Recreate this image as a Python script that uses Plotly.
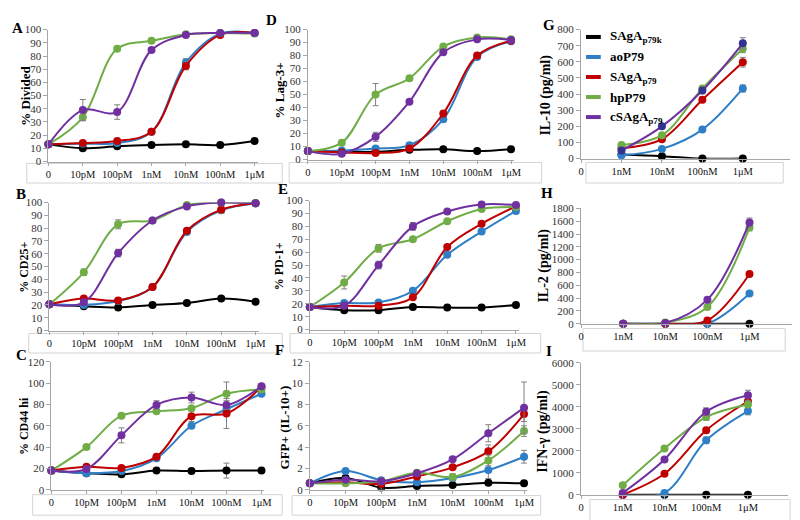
import plotly.graph_objects as go

DOSES7 = ["0", "10pM", "100pM", "1nM", "10nM", "100nM", "1μM"]
DOSES4 = ["0", "1nM", "10nM", "100nM", "1μM"]
SERIES = ["SAgA<sub>p79k</sub>", "aoP79", "SAgA<sub>p79</sub>", "hpP79", "cSAgA<sub>p79</sub>"]
COLORS = ["#000000", "#2e7fc6", "#c00000", "#70ad47", "#7030a0"]

# values per panel, series order = SERIES
divided = [[13, 10, 11.5, 12.5, 13, 12.5, 15.5],
           [13, 13.5, 14, 22.5, 75, 97, 97.5],
           [13, 14, 15.5, 22.5, 72.5, 96, 97.5],
           [13, 33.5, 85.5, 91.5, 96.5, 97.5, 97],
           [13, 39, 37.5, 84.5, 96, 97.5, 97.5]]
divided_err = [[0, 0, 0, 0, 0, 0, 0], [0, 0, 0, 0, 3, 0, 0], [0, 0, 0, 0, 3, 0, 0],
               [0, 2.5, 0, 0, 0, 0, 0], [0, 8, 5.5, 0, 0, 0, 0]]
lag3 = [[6.5, 6, 6, 7.5, 8, 6.5, 8],
        [6.5, 7, 8.5, 11, 31, 79, 91],
        [6.5, 5.5, 5, 8.5, 35.5, 80, 91.5],
        [6.5, 13, 50, 62.5, 87, 94, 92.5],
        [6.5, 4.5, 17.5, 44.5, 82.5, 92.5, 92]]
lag3_err = [[0] * 7, [0] * 7, [0] * 7, [0, 0, 8.5, 0, 0, 0, 0], [0, 0, 3.5, 0, 0, 0, 0]]
il10 = [[25, 15, 0, 0],
        [20, 60, 180, 435],
        [65, 120, 365, 598],
        [85, 145, 435, 682],
        [50, 200, 422, 715]]
il10_err = [[0, 0, 0, 0], [0, 0, 10, 22], [0, 0, 18, 30], [0, 0, 15, 25], [0, 0, 20, 35]]
cd25 = [[20.5, 19, 18, 20, 21.5, 25, 22.5],
        [20.5, 20, 23, 34, 77, 94, 99.5],
        [20.5, 25, 23.5, 34, 78, 94.5, 99.5],
        [20.5, 45.5, 83, 86, 98, 100, 99.5],
        [20.5, 22, 60.5, 86, 97, 100, 99.5]]
cd25_err = [[0] * 7, [0] * 7, [0, 0, 0, 0, 0, 3, 0], [0, 2.5, 3.5, 0, 0, 0, 0], [0, 0, 3, 0, 0, 0, 0]]
pd1 = [[17.5, 15, 15, 17.5, 17, 17, 19],
       [17.5, 20.5, 21, 30, 58, 76, 92],
       [17.5, 18.5, 18.5, 25, 64, 82, 95.5],
       [17.5, 36.5, 63, 70, 84, 93.5, 95],
       [17.5, 18.5, 50, 80, 91.5, 97, 96.5]]
pd1_err = [[0] * 7, [0, 0, 0, 0, 0, 0, 2], [0] * 7, [0, 5, 3, 0, 0, 0, 0], [0, 0, 3, 3, 0, 0, 0]]
il2 = [[0, 0, 0, 0],
       [0, 0, 0, 470],
       [0, 0, 50, 775],
       [0, 20, 260, 1500],
       [0, 10, 375, 1580]]
il2_err = [[0, 0, 0, 0], [0, 0, 0, 15], [0, 0, 0, 20], [0, 0, 0, 50], [0, 0, 0, 70]]
cd44 = [[18, 15.5, 14.5, 18, 17.5, 18, 18],
        [18, 15.5, 17.5, 29.5, 60, 75.5, 90],
        [18, 21.5, 20.5, 31, 69, 71.5, 96.5],
        [18, 40, 69.5, 73.5, 76.5, 90, 94],
        [18, 19.5, 51, 79.5, 86.5, 79.5, 97]]
cd44_err = [[0, 0, 0, 0, 0, 7, 0], [0] * 7, [0, 0, 0, 0, 5, 14, 0],
            [0, 2, 0, 0, 0, 11, 0], [0, 0, 7, 4, 5, 4, 0]]
gfp = [[0.6, 1.1, 0.2, 0.35, 0.45, 0.65, 0.6],
       [0.6, 1.75, 0.9, 0.7, 1.1, 1.85, 3.1],
       [0.6, 0.7, 0.55, 1.25, 2.1, 3.6, 7.1],
       [0.6, 0.6, 0.8, 1.6, 1.2, 2.75, 5.5],
       [0.6, 0.95, 0.8, 1.55, 2.85, 5.3, 7.7]]
gfp_err = [[0, 0.6, 0, 0, 0, 0, 0], [0, 0, 0, 0, 0, 0.8, 0.6], [0, 0, 0.5, 0, 0, 0.6, 0.7],
           [0, 0, 0, 0, 0.3, 0.5, 0.5], [0, 0, 0, 0, 0, 0.8, 2.4]]
ifng = [[0, 0, 0, 0],
        [0, 80, 2470, 3800],
        [0, 950, 2930, 4250],
        [430, 2100, 3530, 4100],
        [80, 1600, 3770, 4520]]
ifng_err = [[0, 0, 0, 0], [0, 0, 150, 170], [0, 0, 120, 120], [0, 0, 150, 120], [0, 0, 180, 230]]

SERIF = "Liberation Serif"
W, H = 800, 520

# panel geometry (pixels): x0, step, xend, ybottom, ytop, ymax, dtick
panels = [
    dict(letter="A", title="% Divided", vals=divided, err=divided_err, cats=DOSES7, x0=38, step=34.83, xend=250,
         yb=151, yt=16, ymax=100, dt=10, box=(16, 153, 275, 173), let=(7, 14), tt=(14, 84), ts=13),
    dict(letter="D", title="% Lag-3+", vals=lag3, err=lag3_err, cats=DOSES7, x0=301, step=34.33, xend=510,
         yb=149, yt=16, ymax=100, dt=10, box=(282, 152, 538, 173), let=(264, 6), tt=(272, 78), ts=13),
    dict(letter="G", title="IL-10 (pg/ml)", vals=il10, err=il10_err, cats=DOSES4, x0=578, step=41, xend=790,
         yb=148, yt=16, ymax=800, dt=100, box=(583, 152, 783, 173), let=(545, 11), tt=(543, 83), ts=14),
    dict(letter="B", title="% CD25+", vals=cd25, err=cd25_err, cats=DOSES7, x0=39, step=34.83, xend=251,
         yb=324, yt=193, ymax=100, dt=10, box=(18, 327, 275, 347), let=(10, 184), tt=(13, 259), ts=12),
    dict(letter="E", title="% PD-1+", vals=pd1, err=pd1_err, cats=DOSES7, x0=303, step=34.83, xend=515,
         yb=323, yt=191, ymax=100, dt=10, box=(283, 327, 537, 347), let=(276, 179), tt=(272, 258), ts=12),
    dict(letter="H", title="IL-2 (pg/ml)", vals=il2, err=il2_err, cats=DOSES4, x0=578, step=42.7, xend=793,
         yb=317, yt=199, ymax=1800, dt=200, box=(580, 322, 785, 345), let=(543, 183), tt=(540, 258), ts=14),
    dict(letter="C", title="% CD44 hi", vals=cd44, err=cd44_err, cats=DOSES7, x0=41, step=35.5, xend=257,
         yb=487, yt=356, ymax=120, dt=20, box=(22, 492, 275, 513), let=(11, 349), tt=(13, 422), ts=12),
    dict(letter="F", title="GFP+ (IL-10+)", vals=gfp, err=gfp_err, cats=DOSES7, x0=303, step=36.2, xend=523,
         yb=487, yt=356, ymax=12, dt=2, box=(285, 493, 537, 513), let=(272, 344), tt=(277, 423), ts=13),
    dict(letter="I", title="IFN-γ (pg/ml)", vals=ifng, err=ifng_err, cats=DOSES4, x0=578, step=42.3, xend=788,
         yb=492, yt=357, ymax=6000, dt=1000, box=(587, 497, 790, 522), let=(545, 345), tt=(540, 427), ts=14),
]

fig = go.Figure()
layout = dict(width=W, height=H, margin=dict(l=0, r=0, t=0, b=0), showlegend=False,
              plot_bgcolor="white", paper_bgcolor="white", font=dict(family=SERIF, size=11, color="#222"))
shapes = []
annotations = []

for i, p in enumerate(panels):
    k = "" if i == 0 else str(i + 1)
    xa, ya = "x" + k, "y" + k
    ncat = len(p["cats"])
    offset = 0 if ncat == 7 else 1
    xs = list(range(offset, offset + len(p["vals"][0])))
    for s in range(5):
        mcol = COLORS[s]
        if p["letter"] == "G" and s == 4:
            mcol = "#33338f"
        fig.add_trace(go.Scatter(
            x=xs, y=p["vals"][s], xaxis=xa, yaxis=ya, mode="lines+markers",
            line=dict(color=COLORS[s], width=2, shape="spline", smoothing=1.0),
            marker=dict(color=mcol, size=8),
            error_y=dict(type="data", array=p["err"][s], color="#808080", thickness=1, width=3),
            cliponaxis=False, name=SERIES[s]))
    xmax = (p["xend"] - p["x0"]) / p["step"]
    layout["xaxis" + k] = dict(
        domain=[p["x0"] / W, p["xend"] / W], anchor=ya, range=[0, xmax],
        tickvals=list(range(ncat)), ticktext=p["cats"], showline=True, linecolor="#a6a6a6",
        linewidth=1, ticks="outside", ticklen=3, tickcolor="#a6a6a6", showgrid=False, zeroline=False,
        tickfont=dict(family=SERIF, size=10.5, color="#111"), fixedrange=True)
    layout["yaxis" + k] = dict(
        domain=[1 - p["yb"] / H, 1 - p["yt"] / H], anchor=xa, range=[0, p["ymax"]], dtick=p["dt"],
        tick0=0, showline=True, linecolor="#a6a6a6", linewidth=1, ticks="outside", ticklen=4,
        tickcolor="#a6a6a6", showgrid=False, zeroline=False,
        tickfont=dict(family=SERIF, size=11, color="#333"), fixedrange=True)
    bx0, by0, bx1, by1 = p["box"]
    shapes.append(dict(type="rect", xref="paper", yref="paper", x0=bx0 / W, x1=bx1 / W,
                       y0=1 - by1 / H, y1=1 - by0 / H, line=dict(color="#d4d4d4", width=1), layer="below"))
    annotations.append(dict(text="<b>%s</b>" % p["letter"], xref="paper", yref="paper",
                            x=p["let"][0] / W, y=1 - p["let"][1] / H, showarrow=False,
                            xanchor="center", yanchor="middle", font=dict(family=SERIF, size=15, color="#000")))
    annotations.append(dict(text="<b>%s</b>" % p["title"], xref="paper", yref="paper",
                            x=p["tt"][0] / W, y=1 - p["tt"][1] / H, showarrow=False, textangle=-90,
                            xanchor="center", yanchor="middle", font=dict(family=SERIF, size=p["ts"], color="#000")))

# legend drawn inside panel G
LEG_Y = [23.5, 44, 64.5, 85, 105.5]
for s in range(5):
    shapes.append(dict(type="line", xref="paper", yref="paper", x0=583 / W, x1=598 / W,
                       y0=1 - LEG_Y[s] / H, y1=1 - LEG_Y[s] / H, line=dict(color=COLORS[s], width=4)))
    annotations.append(dict(text="<b>%s</b>" % SERIES[s], xref="paper", yref="paper",
                            x=605 / W, y=1 - LEG_Y[s] / H, showarrow=False, xanchor="left", yanchor="middle",
                            font=dict(family=SERIF, size=13, color="#000")))

layout["shapes"] = shapes
layout["annotations"] = annotations
fig.update_layout(**layout)
fig.write_html("out.html")
